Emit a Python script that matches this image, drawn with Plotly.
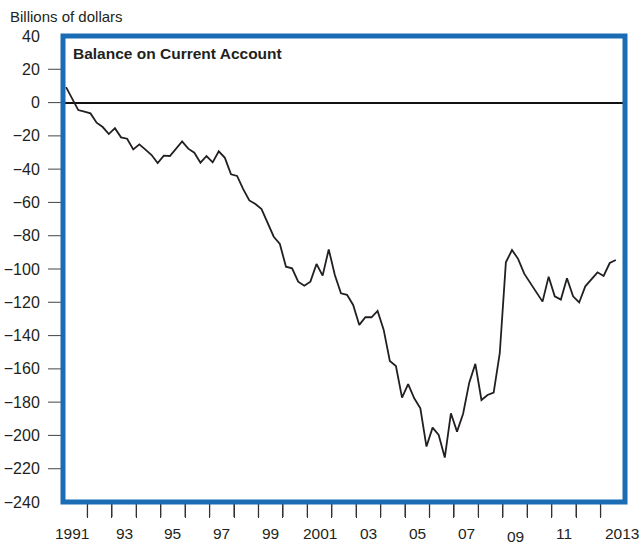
import plotly.graph_objects as go

# ---- data (quarterly, billions of dollars), 1991Q1 .. 2013Q3 ----
start_year = 1991
balance = [
    9.3, 2.5, -4.5, -5.5,            # 1991
    -6.5, -12.1, -14.7, -18.9,       # 1992
    -15.4, -20.9, -21.7, -28.1,      # 1993
    -25.1, -28.3, -31.5, -36.3,      # 1994
    -31.9, -32.1, -27.7, -23.3,      # 1995
    -27.7, -30.1, -36.1, -32.1,      # 1996
    -35.9, -29.3, -33.2, -43.1,      # 1997
    -44.1, -52.0, -58.8, -61.0,      # 1998
    -64.0, -72.0, -80.6, -85.0,      # 1999
    -98.6, -99.6, -107.6, -110.0,    # 2000
    -107.6, -97.0, -104.0, -88.2,    # 2001
    -103.6, -114.6, -115.5, -121.6,  # 2002
    -133.6, -129.0, -129.0, -125.2,  # 2003
    -136.6, -155.3, -158.3, -177.3,  # 2004
    -169.2, -177.7, -183.7, -206.7,  # 2005
    -195.3, -199.7, -213.3, -186.7,  # 2006
    -197.7, -187.0, -168.3, -157.0,  # 2007
    -178.7, -175.7, -174.3, -150.6,  # 2008
    -96.0, -88.6, -93.9, -102.8,     # 2009
    -108.4, -113.6, -119.6, -104.6,  # 2010
    -116.4, -118.4, -105.6, -116.4,  # 2011
    -120.1, -110.4, -106.4, -102.0,  # 2012
    -104.2, -96.4, -94.6,            # 2013
]
quarter_pos = [start_year + (i + 0.5) / 4 for i in range(len(balance))]

y_tick_vals = list(range(-240, 41, 20))
y_tick_text = [("\u2212" if v < 0 else "") + str(abs(v)) for v in y_tick_vals]
y_mark_vals = [v for v in y_tick_vals if -240 < v < 40]

x_bound_years = list(range(1992, 2014))
x_label_years = [1991, 1993, 1995, 1997, 1999, 2001, 2003, 2005, 2007, 2009, 2011, 2013]
x_label_text = ["1991", "93", "95", "97", "99", "2001", "03", "05", "07", "09", "11", "2013"]

title_text = "Balance on Current Account"
unit_text = "Billions of dollars"

# ---- styles ----
FONT = "Liberation Sans, Arial, sans-serif"
TXT = "#231f20"
BLUE = "#1a6db4"
x_shift = {"1991": -3, "2013": 9}
y_shift = {"09": -3}

fig = go.Figure()
fig.add_trace(go.Scatter(
    x=quarter_pos, y=balance, mode="lines",
    line=dict(color="#231f20", width=1.8),
    hoverinfo="skip", showlegend=False,
))

annotations = []
for yr, txt in zip(x_label_years, x_label_text):
    annotations.append(dict(
        x=yr + 0.5, xref="x", y=0, yref="paper",
        text=txt, showarrow=False, yanchor="middle", xanchor="center",
        xshift=x_shift.get(txt, 0), yshift=-31 + y_shift.get(txt, 0),
        font=dict(family=FONT, size=15.5, color=TXT),
    ))
annotations.append(dict(
    x=0, xref="paper", y=1, yref="paper", text="<b>" + title_text + "</b>",
    showarrow=False, xanchor="left", yanchor="middle",
    xshift=8, yshift=-17,
    font=dict(family=FONT, size=15.5, color=TXT),
))
annotations.append(dict(
    x=0, xref="paper", y=1, yref="paper", text=unit_text,
    showarrow=False, xanchor="left", yanchor="middle",
    xshift=-55, yshift=20,
    font=dict(family=FONT, size=15, color=TXT),
))

# tick marks: short lines at year boundaries (x) and inner y tick values
X_TICK_LEN = 15 / 466   # in paper units of plot height
Y_TICK_LEN = 15 / 562   # in paper units of plot width
shapes = []
for yr in x_bound_years:
    shapes.append(dict(type="line", xref="x", yref="paper", x0=yr, x1=yr,
                       y0=0, y1=-X_TICK_LEN, line=dict(color="#333", width=1.3),
                       layer="below"))
for v in y_mark_vals:
    shapes.append(dict(type="line", xref="paper", yref="y", x0=0, x1=-Y_TICK_LEN,
                       y0=v, y1=v, line=dict(color="#555", width=1.1),
                       layer="below"))
shapes.append(dict(
    type="rect", xref="paper", yref="paper", x0=0, x1=1, y0=0, y1=1,
    line=dict(color=BLUE, width=5), fillcolor="rgba(0,0,0,0)", layer="above",
))

fig.update_layout(
    template="none",
    width=641, height=544,
    margin=dict(l=63, r=16, t=36, b=42, pad=0),
    paper_bgcolor="white", plot_bgcolor="white",
    showlegend=False,
    xaxis=dict(
        range=[1991, 2014], tickmode="array", tickvals=x_bound_years,
        showticklabels=False, ticks="outside", ticklen=15, tickwidth=1.3,
        tickcolor="#333", showgrid=False, zeroline=False, showline=False,
        fixedrange=True, automargin=False,
    ),
    yaxis=dict(
        range=[-240, 40], tickmode="array", tickvals=y_tick_vals,
        ticktext=y_tick_text, ticks="outside", ticklen=19,
        tickcolor="rgba(0,0,0,0)", showgrid=False,
        zeroline=True, zerolinecolor="#111", zerolinewidth=1.5,
        showline=False, fixedrange=True, automargin=False,
        tickfont=dict(family=FONT, size=16, color=TXT),
    ),
    annotations=annotations,
    shapes=shapes,
)

fig.write_html(
    "out.html",
    config={"displayModeBar": False},
    post_script="document.body.style.margin='0';",
)
